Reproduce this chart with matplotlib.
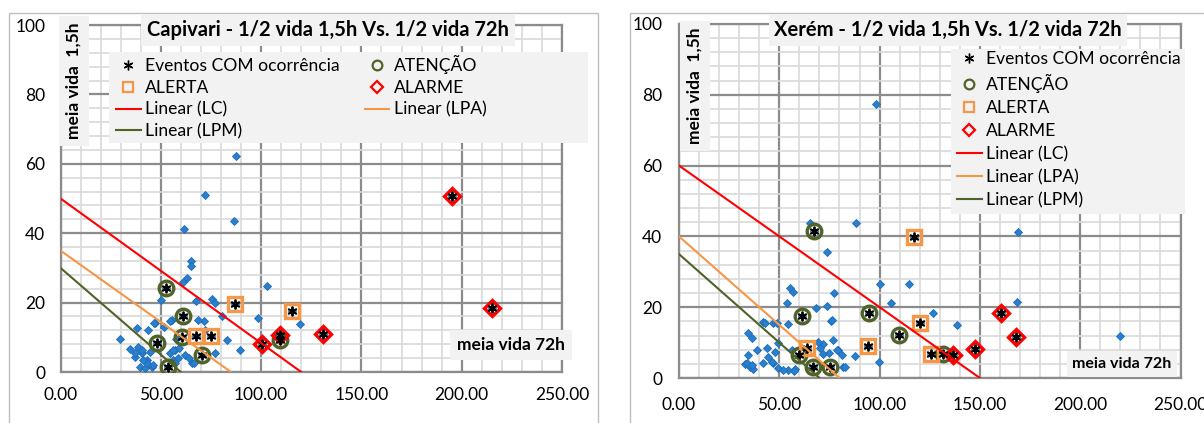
import numpy as np
import matplotlib.pyplot as plt
from matplotlib.lines import Line2D
from matplotlib.patches import Rectangle
from matplotlib.ticker import MultipleLocator, FormatStrFormatter

plt.rcParams['font.family'] = ['Lato', 'DejaVu Sans']

# ---- Capivari ----
cap_pontos_x = [87.5, 72, 86.5, 61.6, 64.9, 64.9, 62.9, 61.2, 103.1, 50, 67.5, 75.4, 77,
                80.4, 71.7, 98.6, 119.4, 82.9, 89.5, 77, 55.7, 47.1, 43.8, 38, 51.8, 29.7,
                34.6, 38.8, 40.5, 37.1, 44.6, 43, 39.6, 45.5, 42.1, 54.6, 57.1, 55.9, 62.1,
                65.4, 64.2, 46.6, 54.6, 42.9, 46.2, 41.3, 57.6, 59.3, 56, 58.8, 57.1, 66.7,
                72, 68.7, 37.1, 40.5]
cap_pontos_y = [62.2, 51, 43.5, 41.1, 32.1, 30.5, 27, 26, 24.9, 20.7, 20.5, 21, 20,
                16.1, 14.8, 15.5, 13.8, 9.2, 6.3, 5.6, 15, 14, 12.1, 12.6, 13.1, 9.4,
                6.5, 7.3, 5.4, 4.4, 5.9, 3.5, 1.5, 1.5, 1.1, 5.4, 6.3, 3.5, 4.9,
                2.5, 3.9, 14.2, 14.8, 2.5, 2, 3.5, 9.4, 6.8, 6.3, 4, 2.5, 2.5,
                12.1, 15, 5.6, 6.3]
cap_atencao_x = [52.8, 61, 60.5, 48, 70.5, 53.5, 109.3]
cap_atencao_y = [24.2, 16, 10, 8.5, 5, 1.5, 9.3]
cap_alerta_x = [87, 115.5, 67.3, 75]
cap_alerta_y = [19.5, 17.5, 10.3, 10.3]
cap_alarme_x = [100.5, 109.5, 131, 195.2, 215.2]
cap_alarme_y = [8, 10.8, 11, 50.8, 18.4]
cap_lc_x, cap_lc_y = [0, 120], [50, 0]
cap_lpa_x, cap_lpa_y = [0, 85], [35, 0]
cap_lpm_x, cap_lpm_y = [0, 60], [30, 0]

# ---- Xerem ----
xer_pontos_x = [98, 65.3, 88.2, 73.6, 100.2, 114.8, 77.3, 105.5, 68.3, 73.6, 75.8, 126.5,
                138.7, 76.9, 71.9, 79.4, 81.1, 87.7, 99.9, 81.9, 168.8, 168.3, 219.8,
                55.3, 56.7, 53.7, 47, 54.5, 42, 34.5, 36.2, 38.7, 43.7, 47.9, 49.5, 44.5,
                32.9, 35.4, 37, 42, 47, 49.5, 54.5, 57.8, 51.7, 56.2, 70.3, 72, 75, 78.6,
                82.8, 69.1, 76.3, 48.7, 34.5, 33.7, 36.2, 46.4, 57.3, 42.9]
xer_pontos_y = [77.5, 43.9, 43.7, 35.5, 26.6, 26.6, 24.1, 21.3, 19.7, 20.3, 16.2, 18.3,
                15, 10.7, 9.6, 7.9, 6.5, 6.2, 4.6, 3.2, 41.3, 21.6, 12,
                25.3, 24.4, 21.1, 15.5, 15.2, 15.9, 12.6, 11.2, 7.9, 8.4, 7.4, 9.8, 6,
                4, 3.2, 2.5, 4.3, 4.3, 2.7, 2.3, 2.5, 2.3, 7.9, 8.4, 6.8, 7.2, 7.9,
                3.2, 10.3, 16.4, 15.4, 6.5, 4.1, 3.7, 4.5, 2.1, 15.4]
xer_atencao_x = [67.3, 61.2, 94.9, 109.8, 60, 66.6, 75.3, 131.5]
xer_atencao_y = [41.5, 17.6, 18.3, 12.2, 6.4, 3.2, 3, 6.8]
xer_alerta_x = [116.9, 120.2, 94, 63.7, 125.8]
xer_alerta_y = [39.7, 15.6, 9, 8.4, 6.9]
xer_alarme_x = [136.4, 147.6, 160.7, 167.8]
xer_alarme_y = [6.4, 8.2, 18.3, 11.7]
xer_lc_x, xer_lc_y = [0, 150], [60, 0]
xer_lpa_x, xer_lpa_y = [0, 80], [40, 0]
xer_lpm_x, xer_lpm_y = [0, 70], [35, 0]

W, H = 1204, 423
OLIVE, ORANGE, RED, BLUE = '#4F6228', '#F79646', '#FF0000', '#2A7FCF'
BOX = '#F2F2F2'

fig = plt.figure(figsize=(W / 100, H / 100), dpi=100)


def fx(px):
    return px / W


def fy(py):
    return 1 - py / H


def box(x0, y0, x1, y1, **kw):
    r = Rectangle((fx(x0), fy(y1)), fx(x1) - fx(x0), fy(y0) - fy(y1),
                  transform=fig.transFigure, **kw)
    fig.patches.append(r)


def plott(rect, pontos, atencao, alerta, alarme, lc, lpa, lpm, xpad, ypad):
    ax = fig.add_axes(rect)
    ev_x = list(atencao[0]) + list(alerta[0]) + list(alarme[0])
    ev_y = list(atencao[1]) + list(alerta[1]) + list(alarme[1])
    ax.plot(list(pontos[0]) + ev_x, list(pontos[1]) + ev_y, 'D', color=BLUE,
            ms=4.3, mec='#1C6CB8', mew=0.6, zorder=3)
    ax.plot(atencao[0], atencao[1], 'o', mfc='none', mec=OLIVE, ms=10.5, mew=2.4, zorder=4)
    ax.plot(alerta[0], alerta[1], 's', mfc='none', mec=ORANGE, ms=10.5, mew=2.4, zorder=4)
    ax.plot(alarme[0], alarme[1], 'D', mfc='none', mec=RED, ms=8.5, mew=2.4, zorder=4)
    ax.plot(ev_x, ev_y, ls='none', marker=(6, 2, 0), color='black', ms=7, mew=1.3, zorder=5)
    l1, = ax.plot(lc[0], lc[1], color=RED, lw=1.5, zorder=6)
    l2, = ax.plot(lpa[0], lpa[1], color=ORANGE, lw=1.5, zorder=6)
    l3, = ax.plot(lpm[0], lpm[1], color=OLIVE, lw=1.5, zorder=6)

    ax.set_xlim(0, 250)
    ax.set_ylim(0, 100)
    ax.xaxis.set_major_locator(MultipleLocator(50))
    ax.xaxis.set_minor_locator(MultipleLocator(10))
    ax.yaxis.set_major_locator(MultipleLocator(20))
    ax.yaxis.set_minor_locator(MultipleLocator(4))
    ax.xaxis.set_major_formatter(FormatStrFormatter('%.2f'))
    ax.grid(which='minor', color='#D9D9D9', lw=1.2)
    ax.grid(which='major', color='#8C8C8C', lw=1.6)
    ax.set_axisbelow(True)
    for s in ax.spines.values():
        s.set_color('#8C8C8C')
        s.set_linewidth(1.6)
    ax.tick_params(which='both', length=0, labelsize=12.5)
    ax.tick_params(axis='x', pad=xpad)
    ax.tick_params(axis='y', pad=ypad)
    return [l1, l2, l3]


def handles():
    ev = Line2D([], [], ls='none', marker=(6, 2, 0), color='black', ms=7, mew=1)
    at = Line2D([], [], ls='none', marker='o', mfc='none', mec=OLIVE, ms=7, mew=1.6)
    al = Line2D([], [], ls='none', marker='s', mfc='none', mec=ORANGE, ms=7.5, mew=1.6)
    am = Line2D([], [], ls='none', marker='D', mfc='none', mec=RED, ms=6, mew=1.6)
    return ev, at, al, am


# outer chart frames
box(9, 13, 598, 440, facecolor='none', edgecolor='#BFBFBF', lw=1, zorder=0.5)
box(630, 13, 1220, 440, facecolor='none', edgecolor='#BFBFBF', lw=1, zorder=0.5)

# Capivari chart
lines = plott([fx(60.5), fy(372), fx(562) - fx(60.5), fy(25) - fy(372)],
              (cap_pontos_x, cap_pontos_y), (cap_atencao_x, cap_atencao_y),
              (cap_alerta_x, cap_alerta_y), (cap_alarme_x, cap_alarme_y),
              (cap_lc_x, cap_lc_y), (cap_lpa_x, cap_lpa_y), (cap_lpm_x, cap_lpm_y),
              xpad=11, ypad=11)
ev, at, al, am = handles()
box(109, 52, 588, 143, facecolor=BOX, edgecolor='none', zorder=1)
fig.legend([ev, al, lines[0], lines[2], at, am, lines[1]],
           ['Eventos COM ocorrência', 'ALERTA', 'Linear (LC)', 'Linear (LPM)',
            'ATENÇÃO', 'ALARME', 'Linear (LPA)'],
           loc='upper left', bbox_to_anchor=(fx(116), fy(55)), ncol=2, frameon=False,
           fontsize=12.6, handlelength=1.4, handletextpad=0.25, columnspacing=1.45,
           labelspacing=0.33, borderpad=0, borderaxespad=0)
fig.text(fx(328), fy(30), 'Capivari - 1/2 vida 1,5h Vs. 1/2 vida 72h', ha='center',
         va='center', fontsize=14.5, weight='bold',
         bbox=dict(facecolor=BOX, edgecolor='none', pad=4), zorder=2)
fig.text(fx(74), fy(81), 'meia vida  1,5h', rotation=90, ha='center', va='center',
         fontsize=12.5, weight='bold', bbox=dict(facecolor=BOX, edgecolor='none', pad=5),
         zorder=2)
fig.text(fx(511), fy(345), 'meia vida 72h', ha='center', va='center', fontsize=12.5,
         weight='bold', bbox=dict(facecolor=BOX, edgecolor='none', pad=5), zorder=2)

# Xerem chart
lines = plott([fx(679), fy(378), fx(1180.5) - fx(679), fy(24) - fy(378)],
              (xer_pontos_x, xer_pontos_y), (xer_atencao_x, xer_atencao_y),
              (xer_alerta_x, xer_alerta_y), (xer_alarme_x, xer_alarme_y),
              (xer_lc_x, xer_lc_y), (xer_lpa_x, xer_lpa_y), (xer_lpm_x, xer_lpm_y),
              xpad=14, ypad=12)
ev, at, al, am = handles()
box(951, 49, 1185, 214, facecolor=BOX, edgecolor='none', zorder=1)
fig.legend([ev, at, al, am] + lines,
           ['Eventos COM ocorrência', 'ATENÇÃO', 'ALERTA', 'ALARME',
            'Linear (LC)', 'Linear (LPA)', 'Linear (LPM)'],
           loc='upper left', bbox_to_anchor=(fx(957), fy(51)), ncol=1, frameon=False,
           fontsize=12.6, handlelength=1.4, handletextpad=0.25,
           labelspacing=0.4, borderpad=0, borderaxespad=0)
fig.text(fx(948), fy(30), 'Xerém - 1/2 vida 1,5h Vs. 1/2 vida 72h', ha='center',
         va='center', fontsize=14.5, weight='bold',
         bbox=dict(facecolor=BOX, edgecolor='none', pad=4), zorder=2)
fig.text(fx(695), fy(86), 'meia vida  1,5h', rotation=90, ha='center', va='center',
         fontsize=12.5, weight='bold', bbox=dict(facecolor=BOX, edgecolor='none', pad=5),
         zorder=2)
fig.text(fx(1122), fy(364), 'meia vida 72h', ha='center', va='center', fontsize=11.5,
         weight='bold', bbox=dict(facecolor=BOX, edgecolor='none', pad=4), zorder=2)

fig.savefig('out.png', dpi=100)
